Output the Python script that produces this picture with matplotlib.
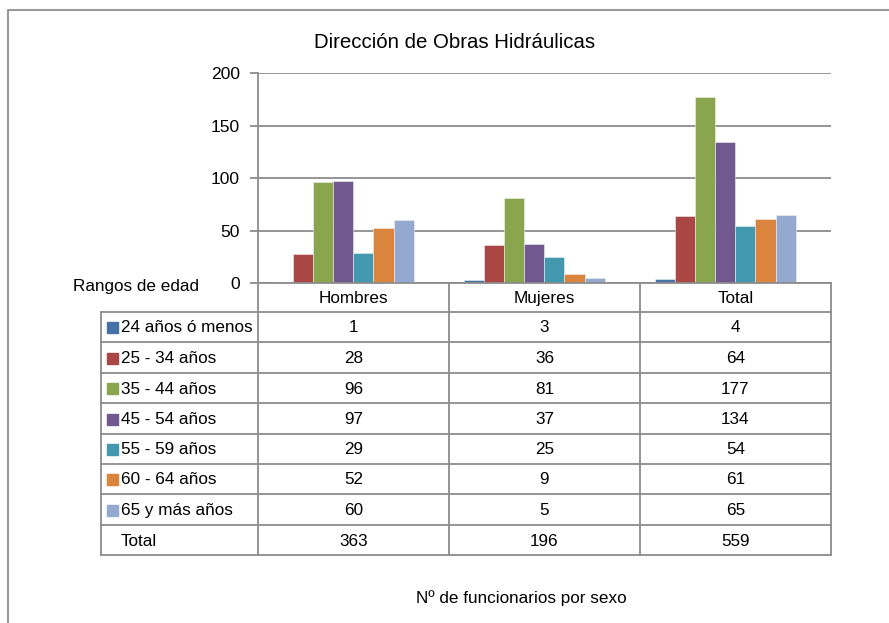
import numpy as np
import matplotlib.pyplot as plt
from matplotlib.patches import Rectangle

plt.rcParams['font.family'] = ['Liberation Sans', 'DejaVu Sans']

categories = ['Hombres', 'Mujeres', 'Total']
series = ['24 años ó menos', '25 - 34 años', '35 - 44 años', '45 - 54 años',
          '55 - 59 años', '60 - 64 años', '65 y más años']
values = [
    [1, 3, 4],
    [28, 36, 64],
    [96, 81, 177],
    [97, 37, 134],
    [29, 25, 54],
    [52, 9, 61],
    [60, 5, 65],
]
totals = [363, 196, 559]
colors = ['#4572A7', '#AA4643', '#89A54E', '#71588F', '#4198AF', '#DB843D', '#93A9CF']

W, H = 889, 623
fig = plt.figure(figsize=(W / 100, H / 100), dpi=100)

# pixel layout helpers
px_l, px_r, px_t, px_b = 258, 831, 73, 283
grid_c = '#8c8c8c'
fs = 12.3

ax = fig.add_axes([px_l / W, 1 - px_b / H, (px_r - px_l) / W, (px_b - px_t) / H])
x = np.arange(len(categories))
bw = 0.105
for i, (name, vals) in enumerate(zip(series, values)):
    ax.bar(x - 0.053 + (i - 3) * bw, vals, bw, color=colors[i],
           edgecolor='#f0f0f0', linewidth=0.4, zorder=3)
ax.set_xlim(-0.5, 2.5)
ax.set_ylim(0, 200)
ax.set_yticks([0, 50, 100, 150, 200])
ax.yaxis.grid(True, color=grid_c, linewidth=1.3, zorder=0)
ax.set_xticks([])
for s in ['top', 'right', 'bottom']:
    ax.spines[s].set_visible(False)
ax.spines['left'].set_color(grid_c)
ax.spines['left'].set_linewidth(1.3)
ax.tick_params(axis='y', length=6, width=1.3, color=grid_c, labelsize=12.6, pad=7)

# overlay for frame and data table, in pixel units
ov = fig.add_axes([0, 0, 1, 1], zorder=-1)
ov.set_xlim(0, W)
ov.set_ylim(H, 0)
ov.axis('off')
ov2 = fig.add_axes([0, 0, 1, 1])
ov2.set_xlim(0, W)
ov2.set_ylim(H, 0)
ov2.axis('off')

lw = 1.3
ov.plot([8, 8, W], [H, 10, 10], color='#999999', lw=1.5)

col_x = [px_l, 449, 640, px_r]
row_y = [283, 312, 342, 373, 403, 434, 464, 494, 525, 555]
leg_x = 100.5

ov2.plot([px_l, px_r], [row_y[0], row_y[0]], color=grid_c, lw=lw)
for yy in row_y[1:]:
    ov2.plot([leg_x, px_r], [yy, yy], color=grid_c, lw=lw)
for xx in col_x:
    ov2.plot([xx, xx], [row_y[0], row_y[-1]], color=grid_c, lw=lw)
ov2.plot([leg_x, leg_x], [row_y[1], row_y[-1]], color=grid_c, lw=lw)

for j, cat in enumerate(categories):
    cx = (col_x[j] + col_x[j + 1]) / 2
    ov2.text(cx, (row_y[0] + row_y[1]) / 2 + 1, cat, ha='center', va='center', fontsize=fs)

rows = [(s, v, c) for s, v, c in zip(series, values, colors)] + [('Total', totals, None)]
for r, (name, vals, c) in enumerate(rows):
    cy = (row_y[r + 1] + row_y[r + 2]) / 2 + 1
    if c is not None:
        ov2.add_patch(Rectangle((107, cy - 6), 11, 11, color=c))
    ov2.text(121, cy, name, ha='left', va='center', fontsize=fs)
    for j, v in enumerate(vals):
        cx = (col_x[j] + col_x[j + 1]) / 2
        ov2.text(cx, cy, str(v), ha='center', va='center', fontsize=fs)

ov2.text(455, 42, 'Dirección de Obras Hidráulicas', ha='center', va='center', fontsize=14.7)
ov2.text(136, 287, 'Rangos de edad', ha='center', va='center', fontsize=fs)
ov2.text(521, 598, 'Nº de funcionarios por sexo', ha='center', va='center', fontsize=fs)

fig.savefig('out.png', dpi=100, facecolor='white')
